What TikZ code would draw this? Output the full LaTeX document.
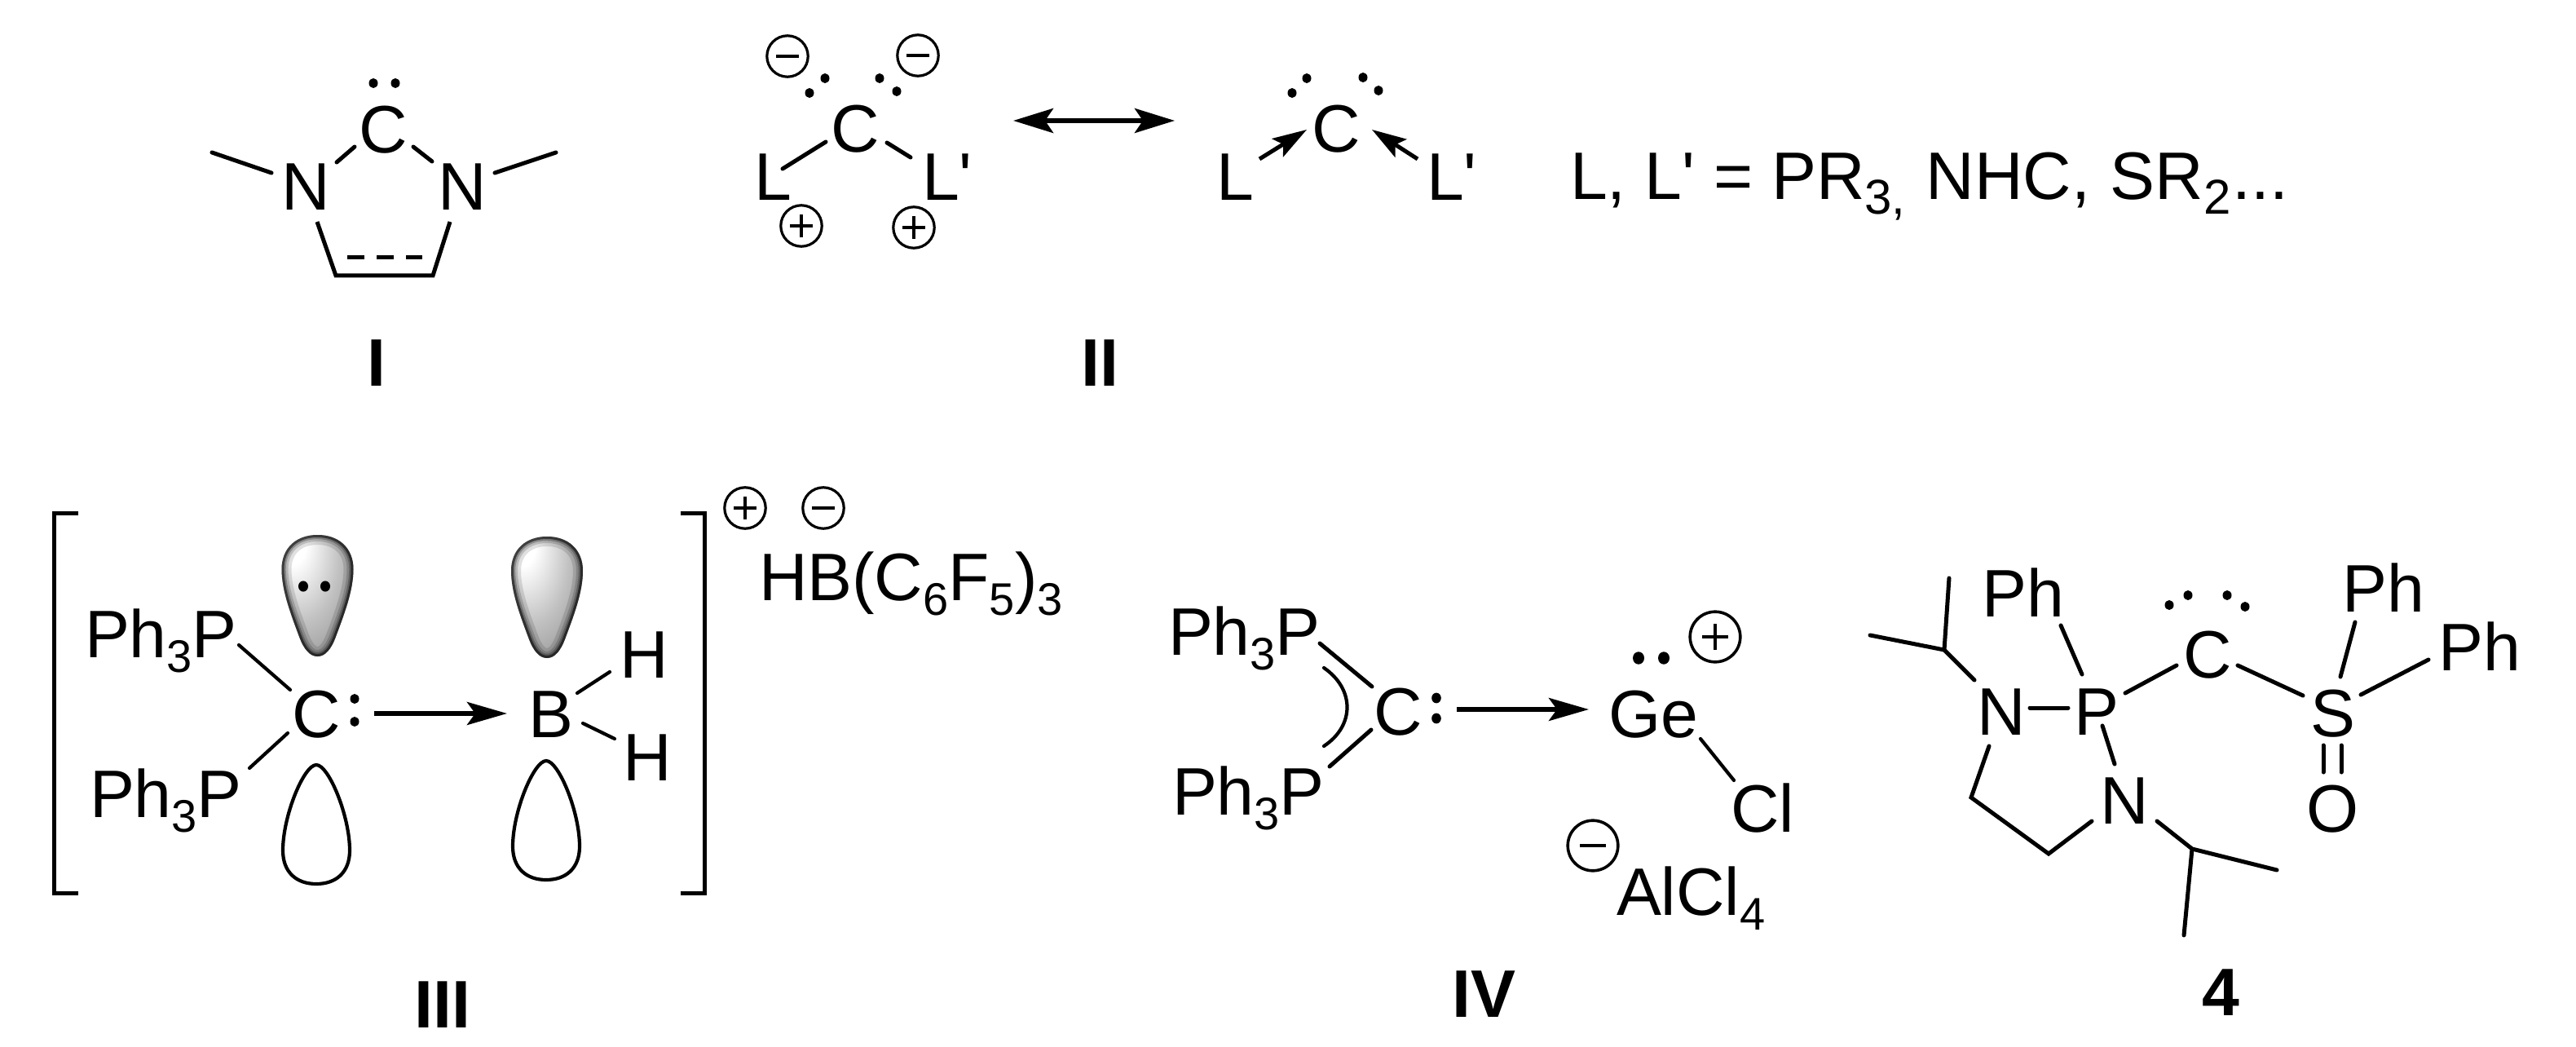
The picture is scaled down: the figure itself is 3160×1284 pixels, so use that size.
\documentclass[tikz,border=0pt]{standalone}
\usepackage{fontspec}
\setmainfont{Liberation Sans}[Ligatures=TeXOff]
\usetikzlibrary{arrows.meta,calc}
\newcommand\subs[1]{\raisebox{-4.5pt}{\fontsize{14pt}{14pt}\selectfont #1}}
\newcommand\subl[1]{\raisebox{-4.5pt}{\fontsize{15pt}{15pt}\selectfont #1}}
\newcommand\bd[5][]{\draw[bond,#1] ($(#2)+(#3)$) -- ($(#4)+(#5)$);}
\newcommand\dotat[3][5.5]{\fill (#2,#3) ellipse [x radius=#1, y radius=#1*1.1];}
\def\lobepath{(0,149) .. controls (-10,149) and (-17,139) .. (-22,126) .. controls (-32,99) and (-44,69) .. (-44,42) .. controls (-44,16) and (-26,0) .. (0,0) .. controls (26,0) and (44,16) .. (44,42) .. controls (44,69) and (32,99) .. (22,126) .. controls (17,139) and (10,149) .. (0,149) -- cycle}
\newcommand\orbtop[2]{\begin{scope}[shift={(#1,#2)}]
 \path[shade,shading=lobe] \lobepath;
 \begin{scope}\clip \lobepath;
  \draw[black,opacity=.12,line width=6pt] \lobepath;
  \draw[black,opacity=.16,line width=4pt] \lobepath;
  \draw[black,opacity=.25,line width=2.6pt] \lobepath;
  \draw[black,opacity=.55,line width=1.5pt] \lobepath;
 \end{scope}
\end{scope}}
\newcommand\orbbot[2]{\begin{scope}[shift={(#1,#2)}]
 \draw[thin bond] (0,0) .. controls (-15,0) and (-41,62) .. (-41,105) .. controls (-41,132) and (-24,146) .. (0,146) .. controls (24,146) and (41,132) .. (41,105) .. controls (41,62) and (15,0) .. (0,0) -- cycle;
\end{scope}}
\pgfdeclareradialshading{lobe}{\pgfpoint{-20bp}{26bp}}{color(0bp)=(white); color(10bp)=(white); color(28bp)=(black!24); color(41bp)=(black!38); color(55bp)=(black!52); color(67bp)=(black!72); color(82bp)=(black!92)}
\tikzset{
 atom/.style={inner sep=0pt,outer sep=0pt,font=\fontsize{20.6pt}{24pt}\selectfont,anchor=base},
 atomw/.style={atom,anchor=base west},
 lbl/.style={atom,font=\fontsize{20.6pt}{24pt}\selectfont\bfseries},
 bond/.style={line width=1.25pt,line cap=round,line join=miter},
 thin bond/.style={line width=1.05pt,line cap=round,line join=round},
 chg/.style={circle,draw,line width=0.8pt,minimum size=12.6pt,inner sep=0pt,outer sep=0pt},
 bigchg/.style={circle,draw,line width=0.9pt,minimum size=15.4pt,inner sep=0pt,outer sep=0pt},
 sign/.style={line width=0.9pt},
 rxn/.style={line width=1.4pt,-{Stealth[length=12.25pt,width=7pt,inset=2.5pt]}},
 res/.style={line width=1.4pt,{Stealth[length=12.25pt,width=7.5pt,inset=2.5pt]}-{Stealth[length=12.25pt,width=7.5pt,inset=2.5pt]}},
 dative/.style={line width=1.25pt,-{Stealth[length=10.5pt,width=6.5pt,inset=2pt]}},
}
\newcommand\plusc[4][chg]{\node[#1] (#2) at (#3) {}; \draw[sign] ($(#2)+(-#4,0)$) -- ($(#2)+(#4,0)$) ($(#2)+(0,-#4)$) -- ($(#2)+(0,#4)$);}
\newcommand\minusc[4][chg]{\node[#1] (#2) at (#3) {}; \draw[sign] ($(#2)+(-#4,0)$) -- ($(#2)+(#4,0)$);}
\begin{document}
\begin{tikzpicture}[x=0.25pt,y=-0.25pt]
\useasboundingbox (0,0) rectangle (3160,1284);
\fill[white] (0,0) rectangle (3160,1284);
% Structure I
\node[atom] (iC) at (470,188) {C};
\node[atom] (iNl) at (375,258) {N};
\node[atom] (iNr) at (567,258) {N};
\coordinate (iMeL) at (260,187);
\coordinate (iMeR) at (682,187);
\coordinate (iCl) at (412,338);
\coordinate (iCr) at (531,338);
\dotat{458}{102}\dotat{485}{102}
\bd{iMeL}{0,0}{iNl.base}{-42,-46}
\bd{iMeR}{0,0}{iNr.base}{40,-46}
\bd{iC.base}{-35,-8}{iNl.base}{38,-59}
\bd{iC.base}{37,-8}{iNr.base}{-37,-60}
\draw[bond,line cap=butt] ($(iNl.base)+(14,14)$) -- (iCl) -- (iCr) -- ($(iNr.base)+(-15,14)$);
\draw[bond,line cap=butt,dash pattern=on 5.2pt off 3.8pt] (426,316) -- (518,316);
\node[lbl] (lI) at (462,473) {I};
% Structure II left
\node[atom] (iiC) at (1049,187) {C};
\node[atom] (iiL) at (948,246) {L};
\node[atomw] (iiLp) at (1131,246) {L'};
\bd{iiC.base}{-36,-13}{iiL.base}{12,-39}
\bd{iiC.base}{39,-12}{iiLp.base west}{-14,-53}
\minusc{m1}{966,69}{14}
\minusc{m2}{1126,68}{14}
\plusc{p1}{983,277}{14}
\plusc{p2}{1121,279}{14}
\dotat{1012}{96}\dotat{993}{114}\dotat{1079}{96}\dotat{1100}{112}
% resonance arrow
\coordinate (resA) at (1243,148);
\coordinate (resB) at (1441,148);
\draw[res] (resA) -- (resB);
% Structure II right
\node[atom] (iiiC) at (1639,187) {C};
\node[atom] (iiiL) at (1515,246) {L};
\node[atomw] (iiiLp) at (1750,246) {L'};
\draw[dative] ($(iiiL.base)+(30,-51)$) -- ($(iiiC.base)+(-36,-28)$);
\draw[dative] ($(iiiLp.base west)+(-11,-51)$) -- ($(iiiC.base)+(44,-28)$);
\dotat{1585}{114}\dotat{1603}{96}\dotat{1672}{95}\dotat{1691}{111}
\node[atomw] (def) at (1926,245) {L, L' = PR\subl{3,}\hspace{0.6pt} NHC,\hspace{0.4pt} SR\subl{2}\hspace{0.4pt}...};
\node[lbl] (lII) at (1349,473) {II};
% Structure III
\coordinate (brTL) at (96,629);\coordinate (brBL) at (96,1095);
\coordinate (brTR) at (835,629);\coordinate (brBR) at (835,1095);
\draw[bond,line cap=butt] (brTL) -- (66,629) -- (66,1095) -- (brBL);
\draw[bond,line cap=butt] (brTR) -- (864,629) -- (864,1095) -- (brBR);
\orbtop{389.5}{656}
\orbtop{671}{658}
\orbbot{388}{938}
\orbbot{670}{933}
\dotat[6]{372}{719}\dotat[6]{399}{719}
\node[atomw] (pp1) at (104,806) {Ph\subs{3}P};
\node[atomw] (pp2) at (110,1002) {Ph\subs{3}P};
\node[atom] (c3) at (388,904) {C};
\dotat{435}{857}\dotat{435}{885}
\node[atom] (b3) at (676,904) {B};
\node[atom] (h1) at (790,831) {H};
\node[atom] (h2) at (794,957) {H};
\bd[thin bond]{pp1.base west}{189,-15}{c3.base}{-32,-58}
\bd[thin bond]{pp2.base west}{196,-60}{c3.base}{-35,-5}
\bd[thin bond]{b3.base}{32,-54}{h1.base}{-42,-7}
\bd[thin bond]{b3.base}{39,-17}{h2.base}{-40,-51}
\draw[rxn] ($(c3.base)+(71,-29)$) -- ($(b3.base)+(-54,-29)$);
\plusc{p3}{914,623}{14}
\minusc{m3}{1010,623}{14}
\node[atomw] (hb) at (931,736) {HB(C\subs{6}F\subs{5})\subs{3}};
\node[lbl] (lIII) at (543,1260) {III};
% Structure IV
\node[atomw] (pp3) at (1433,803) {Ph\subs{3}P};
\node[atomw] (pp4) at (1438,999) {Ph\subs{3}P};
\node[atom] (c4) at (1715,901) {C};
\dotat[5.8]{1762}{856}\dotat[5.8]{1762}{881}
\node[atomw] (ge) at (1973,904) {Ge};
\node[atomw] (cl) at (2123,1020) {Cl};
\bd{pp3.base west}{186,-14}{c4.base}{-32,-59}
\bd{pp4.base west}{193,-59}{c4.base}{-33,-6}
\draw[thin bond] (1624,819) .. controls (1662,845) and (1662,890) .. (1624,915);
\draw[rxn] ($(c4.base)+(72,-31)$) -- ($(ge.base west)+(-24,-34)$);
\bd[thin bond]{ge.base west}{113,2}{cl.base west}{4,-63}
\dotat[7]{2010}{807}\dotat[7]{2041}{807}
\plusc[bigchg]{p4}{2104,781}{16}
\minusc[bigchg]{m4}{1954,1037}{16}
\node[atomw] (al) at (1983,1122) {AlCl\subs{4}};
\node[lbl] (lIV) at (1820,1247) {IV};
% Structure 4
\node[atom] (n1) at (2455,901) {N};
\node[atom] (p5) at (2572,901) {P};
\node[atom] (n2) at (2606,1010) {N};
\node[atom] (c5) at (2708,831) {C};
\node[atom] (s5) at (2862,903) {S};
\node[atom] (o5) at (2862,1020) {O};
\node[atom] (ph1) at (2482,756) {Ph};
\node[atom] (ph2) at (2924,750) {Ph};
\node[atom] (ph3) at (3042,822) {Ph};
\dotat{2661}{742}\dotat{2684}{730}\dotat{2732}{730}\dotat{2754}{744}
\coordinate (ipr1) at (2385,797);
\coordinate (me1) at (2391,709);
\coordinate (me2) at (2294,779);
\coordinate (ipr2) at (2689,1041);
\coordinate (me3) at (2793,1067);
\coordinate (me4) at (2679,1147);
\coordinate (ch1) at (2418,978);
\coordinate (ch2) at (2513,1047);
\draw[bond] (me1) -- (ipr1) -- (me2);
\draw[bond] (ipr1) -- ($(n1.base)+(-33,-67)$);
\bd{n1.base}{35,-33}{p5.base}{-35,-33}
\bd{ph1.base}{46,11}{p5.base}{-18,-74}
\bd{p5.base}{35,-51}{c5.base}{-38,-15}
\bd{c5.base}{37,-15}{s5.base}{-37,-50}
\bd{s5.base}{9,-73}{ph2.base}{-35,13}
\bd{s5.base}{34,-51}{ph3.base}{-63,-13}
\bd{s5.base}{-12,11}{o5.base}{-12,-73}
\bd{s5.base}{10,11}{o5.base}{10,-73}
\bd{p5.base}{7,-11}{n2.base}{-12,-73}
\draw[bond] ($(n1.base)+(-15,14)$) -- (ch1) -- (ch2) -- ($(n2.base)+(-40,-3)$);
\draw[bond] ($(n2.base)+(40,-3)$) -- (ipr2) -- (me3);
\draw[bond] (ipr2) -- (me4);
\node[lbl] (l4) at (2724,1245) {4};
\end{tikzpicture}
\end{document}
